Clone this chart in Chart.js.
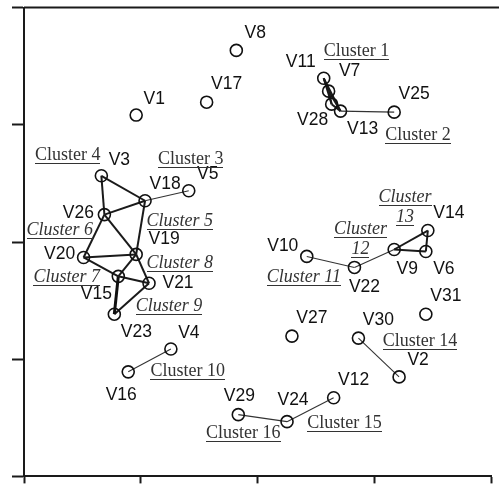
<!DOCTYPE html>
<html><head><meta charset="utf-8">
<script src="https://cdn.jsdelivr.net/npm/chart.js@4/dist/chart.umd.min.js"></script>
<style>html,body{margin:0;padding:0;background:#fff;}canvas{display:block;}</style>
</head><body>
<canvas id="c" width="499" height="484"></canvas>
<script>
// ---- data ----
const nodeNames = ['V1','V2','V3','V4','V5','V6','V7','V8','V9','V10','V11','V12','V13','V14','V15','V16','V17','V18','V19','V20','V21','V22','V23','V24','V25','V26','V27','V28','V29','V30','V31'];
const nodeX = [-1.040, 1.210,-1.338,-0.743,-0.590, 1.439, 0.607,-0.183, 1.168, 0.420, 0.565, 0.650, 0.709, 1.456,-1.193,-1.108,-0.437,-0.964,-1.040,-1.490,-0.930, 0.828,-1.227, 0.251, 1.168,-1.312, 0.293, 0.633,-0.166, 0.862, 1.439];
const nodeY = [ 1.083,-1.151, 0.565,-0.913, 0.437,-0.081, 1.287, 1.635,-0.064,-0.123, 1.397,-1.329, 1.117, 0.098,-0.293,-1.108, 1.193, 0.352,-0.106,-0.132,-0.352,-0.217,-0.616,-1.533, 1.108, 0.234,-0.803, 1.176,-1.473,-0.820,-0.616];

const edgeFrom   = ['V11','V7','V28','V11','V7','V11','V13','V18','V3','V3','V26','V18','V26','V26','V20','V20','V19','V19','V15','V15','V21','V16','V10','V22','V9','V14','V9','V30','V24','V29'];
const edgeTo     = ['V7','V28','V13','V28','V13','V13','V25','V5','V18','V26','V18','V19','V19','V20','V19','V15','V15','V21','V21','V23','V23','V4','V22','V9','V14','V6','V6','V2','V12','V24'];
const edgeWeight = [2,2,2,2,2,2,1,1,2,2,2,2,2,2,2,2,2,2,2,3,2,1,1,1,2,2,2,1,1,1];

const clusterNames  = ['Cluster 1','Cluster 2','Cluster 3','Cluster 4','Cluster 5','Cluster 6','Cluster 7','Cluster 8','Cluster 9','Cluster 10','Cluster 11','Cluster 12','Cluster 13','Cluster 14','Cluster 15','Cluster 16'];
const clusterItalic = [false,false,false,false,true,true,true,true,true,false,true,true,true,false,false,false];

const xTicks = [-2,-1,0,1,2];
const yTicks = [-2,-1,0,1,2];

// ---- layout (annotation placement) ----
const labelOffset = {V1:[18,-17],V2:[19,-18],V3:[18,-17],V4:[18,-17],V5:[19,-18],V6:[18,17],V7:[21,-21],V8:[19,-18],V9:[13,18],V10:[-24,-11],V11:[-23,-17],V12:[20,-19],V13:[22,17],V14:[21,-19],V15:[-22,17],V16:[-7,22],V17:[20,-19],V18:[20,-18],V19:[28,-16],V20:[-24,-4],V21:[29,-1],V22:[10,19],V23:[22,17],V24:[6,-23],V25:[20,-19],V26:[-26,-3],V27:[20,-19],V28:[-19,15],V29:[1,-20],V30:[20,-19],V31:[20,-19]};
const clusterAt = [[0.845,1.635],[1.372,0.921],[-0.573,0.718],[-1.626,0.752],[-0.667,0.191],[-1.694,0.115],[-1.635,-0.293],[-0.667,-0.174],[-0.760,-0.539],[-0.599,-1.091],[0.395,-0.293],[0.879,0.030],[1.261,0.310],[1.389,-0.837],[0.743,-1.533],[-0.123,-1.618]];
const wrapTwoLines = {'Cluster 12':true,'Cluster 13':true};
const weightWidth = {1:1.1, 2:2.0, 3:3.0};
const weightColor = {1:'#333', 2:'#1a1a1a', 3:'#111'};

const idx = n => nodeNames.indexOf(n);

const datasets = [{
  label:'nodes',
  data: nodeNames.map((n,i)=>({x:nodeX[i], y:nodeY[i]})),
  pointStyle:'circle', pointRadius:6, pointHoverRadius:6,
  borderColor:'#111', borderWidth:1.6, backgroundColor:'rgba(0,0,0,0)',
  showLine:false
}];
edgeFrom.forEach((f,k)=>{
  const a = idx(f), b = idx(edgeTo[k]);
  datasets.push({
    label:'e'+k,
    data:[{x:nodeX[a],y:nodeY[a]},{x:nodeX[b],y:nodeY[b]}],
    showLine:true, pointRadius:0, pointHoverRadius:0,
    borderColor: weightColor[edgeWeight[k]], borderWidth: weightWidth[edgeWeight[k]],
    fill:false
  });
});

const annot = {
  id:'annot',
  afterDraw(chart){
    const {ctx, chartArea:ca, scales:{x,y}} = chart;
    ctx.save();
    // top frame line
    ctx.strokeStyle='#1a1a1a'; ctx.lineWidth=2;
    ctx.beginPath(); ctx.moveTo(ca.left, ca.top); ctx.lineTo(chart.width, ca.top); ctx.stroke();
    // node labels
    ctx.font='17.5px "Liberation Sans", Arial, sans-serif';
    ctx.fillStyle='#111'; ctx.textAlign='center'; ctx.textBaseline='alphabetic';
    nodeNames.forEach((n,i)=>{
      const o = labelOffset[n];
      ctx.fillText(n, x.getPixelForValue(nodeX[i])+o[0], y.getPixelForValue(nodeY[i])+o[1]+6);
    });
    // cluster labels
    ctx.fillStyle='#333'; ctx.strokeStyle='#333'; ctx.lineWidth=1;
    clusterNames.forEach((c,i)=>{
      ctx.font=(clusterItalic[i]?'italic ':'')+'18px "Liberation Serif", "Times New Roman", serif';
      const cx = x.getPixelForValue(clusterAt[i][0]);
      const cy = y.getPixelForValue(clusterAt[i][1]);
      const lines = wrapTwoLines[c] ? c.split(' ') : [c];
      const lh = 20;
      lines.forEach((t,j)=>{
        const ly = cy - (lines.length-1)*lh/2 + j*lh;
        const base = ly+6;
        ctx.fillText(t, cx, base);
        const w = ctx.measureText(t).width;
        ctx.beginPath(); ctx.moveTo(Math.round(cx-w/2), Math.round(base+3)+0.5); ctx.lineTo(Math.round(cx+w/2), Math.round(base+3)+0.5); ctx.stroke();
      });
    });
    ctx.restore();
  }
};

new Chart(document.getElementById('c'), {
  type:'scatter',
  data:{datasets},
  options:{
    responsive:false, animation:false, devicePixelRatio:1,
    layout:{padding:{top:6,right:4,left:0,bottom:0}},
    plugins:{legend:{display:false}, tooltip:{enabled:false}},
    scales:{
      x:{type:'linear', min:-2, max:2,
         afterBuildTicks(s){ s.ticks = xTicks.map(v=>({value:v})); },
         afterFit(s){ s.height = 7; },
         ticks:{display:false},
         grid:{drawOnChartArea:false, drawTicks:true, tickLength:7, tickColor:'#1a1a1a', tickWidth:2},
         border:{display:true, color:'#1a1a1a', width:2}},
      y:{type:'linear', min:-2, max:2,
         afterBuildTicks(s){ s.ticks = yTicks.map(v=>({value:v})); },
         afterFit(s){ s.width = 24; },
         ticks:{display:false},
         grid:{drawOnChartArea:false, drawTicks:true, tickLength:12, tickColor:'#1a1a1a', tickWidth:2},
         border:{display:true, color:'#1a1a1a', width:2}}
    }
  },
  plugins:[annot]
});
</script>
</body></html>
